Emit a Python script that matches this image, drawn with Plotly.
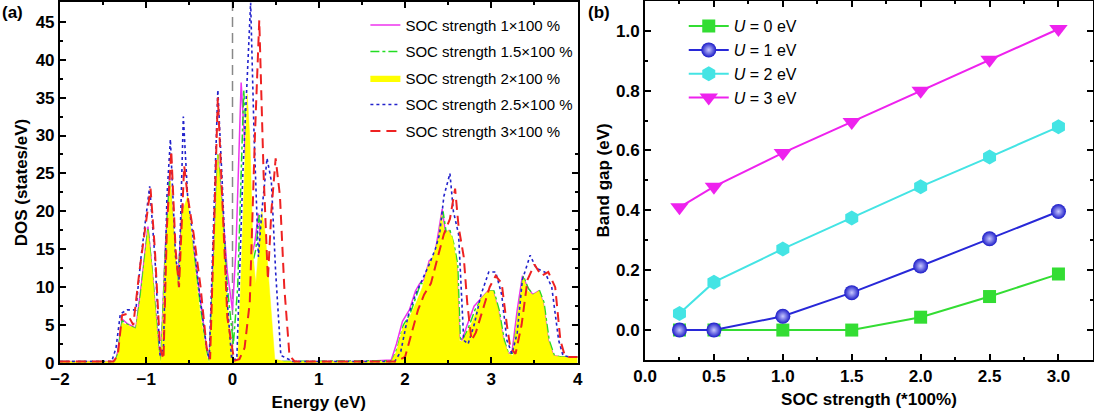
import plotly.graph_objects as go

# ---------------- Panel (a): DOS ----------------
E_soc1 = [-2.0, -1.36, -1.33, -1.28, -1.22, -1.12, -1.06, -0.98, -0.93, -0.86, -0.83, -0.78, -0.73, -0.67,
          -0.64, -0.58, -0.53, -0.45, -0.38, -0.30, -0.27, -0.22, -0.17, -0.12, -0.06, 0.00, 0.04, 0.10,
          0.16, 0.22, 0.26, 0.30, 0.34, 0.40, 0.45, 0.55, 1.0, 1.5, 1.84, 1.90, 1.97, 2.05, 2.12, 2.17,
          2.22, 2.28, 2.34, 2.38, 2.43, 2.47, 2.51, 2.56, 2.60, 2.63, 2.66, 2.72, 2.80, 2.88, 2.96, 3.02,
          3.08, 3.14, 3.19, 3.24, 3.30, 3.36, 3.42, 3.48, 3.55, 3.60, 3.66, 3.72, 3.80, 4.0]
D_soc1 = [0.2, 0.2, 1.5, 5.8, 5.2, 4.6, 10, 18, 12, 2.5, 0.5, 15, 24.5, 15, 9.5, 21, 19, 15, 9, 2, 0.5, 13, 27.5,
          21, 12, 7, 15, 37, 25, 14, 16, 19.7, 14, 6, 0.5, 0.2, 0.2, 0.2, 0.4, 2.5, 5.5, 7, 9.5, 10.5, 11,
          13.5, 14, 17, 20.3, 17, 17.5, 15, 12.5, 3.5, 3, 5, 7.5, 8.5, 9.5, 9.5, 7, 3, 1.2, 1.5, 7, 11.5,
          10, 9, 9.5, 8, 3, 1, 0.8, 0.8]

E_soc15 = [-2.0, -1.36, -1.33, -1.28, -1.22, -1.12, -1.06, -0.98, -0.93, -0.86, -0.83, -0.78, -0.73, -0.67,
           -0.64, -0.58, -0.53, -0.45, -0.38, -0.30, -0.27, -0.22, -0.17, -0.12, -0.06, 0.01, 0.06, 0.13,
           0.18, 0.23, 0.27, 0.31, 0.35, 0.41, 0.47, 0.55, 1.0, 1.5, 1.85, 1.91, 1.98, 2.06, 2.13, 2.18,
           2.23, 2.29, 2.35, 2.39, 2.44, 2.48, 2.52, 2.57, 2.61, 2.64, 2.67, 2.73, 2.81, 2.89, 2.97, 3.03,
           3.09, 3.15, 3.20, 3.25, 3.31, 3.37, 3.43, 3.49, 3.56, 3.61, 3.67, 3.73, 3.81, 4.0]
D_soc15 = [0.2, 0.2, 1.2, 5.6, 5.1, 4.5, 9.5, 17.8, 12, 2.2, 0.3, 14.5, 24, 15, 9.5, 20.5, 20, 14.5, 8, 1.5, 0.3,
           12.5, 27.5, 20.5, 10, 2.5, 10, 36, 26, 13, 15, 19.5, 15, 6.5, 0.5, 0.2, 0.2, 0.2, 0.3, 2, 5, 6.5,
           9, 10.5, 10.5, 13, 14, 16.5, 20, 17, 17.5, 15.5, 13, 3.2, 3, 4.5, 7, 8.5, 9.5, 9.5, 7, 3, 1.2, 1.3,
           6.5, 11.5, 9.8, 9, 9.5, 8, 3, 1, 0.8, 0.8]

E_soc2 = [-2.0, -1.36, -1.33, -1.28, -1.22, -1.12, -1.06, -0.98, -0.93, -0.86, -0.83, -0.78, -0.72, -0.66,
          -0.63, -0.58, -0.52, -0.45, -0.38, -0.30, -0.27, -0.22, -0.17, -0.12, -0.06, 0.00, 0.06, 0.10,
          0.17, 0.20, 0.24, 0.27, 0.30, 0.34, 0.38, 0.44, 0.49, 0.60, 1.0, 1.5, 1.84, 1.90, 1.97, 2.05,
          2.13, 2.20, 2.27, 2.32, 2.38, 2.42, 2.46, 2.50, 2.55, 2.60, 2.63, 2.66, 2.72, 2.80, 2.88, 2.96,
          3.02, 3.08, 3.14, 3.20, 3.25, 3.30, 3.37, 3.42, 3.48, 3.55, 3.60, 3.66, 3.72, 3.80, 4.0]
D_soc2 = [0.2, 0.2, 1.0, 5.3, 5.0, 4.5, 9.0, 17.5, 12, 2.0, 0.0, 14, 24, 15, 9.5, 20, 22, 14, 7, 1, 0.0, 12, 27.5,
          20, 8, 0.0, 0.5, 12, 35.5, 30, 14, 10.5, 15, 20, 17, 8, 0.5, 0.2, 0.2, 0.2, 0.2, 1.5, 4.5, 6, 8, 10,
          13, 14, 16, 19.5, 17, 17.5, 16.5, 13, 3, 2.8, 4, 6, 8.5, 9.5, 9.5, 7, 3, 1.2, 1.0, 6, 11.3, 9.5, 9,
          9.5, 8, 3, 1, 0.8, 0.8]

E_soc25 = [-2.0, -1.40, -1.35, -1.30, -1.22, -1.12, -1.06, -0.96, -0.90, -0.84, -0.80, -0.76, -0.72, -0.66,
           -0.62, -0.57, -0.52, -0.45, -0.38, -0.30, -0.27, -0.22, -0.17, -0.12, -0.06, -0.01, 0.05, 0.12,
           0.21, 0.25, 0.30, 0.34, 0.40, 0.45, 0.50, 0.56, 0.70, 1.0, 1.5, 1.88, 1.95, 2.03, 2.12, 2.20,
           2.28, 2.35, 2.40, 2.45, 2.52, 2.56, 2.62, 2.68, 2.73, 2.80, 2.88, 2.97, 3.05, 3.12, 3.18, 3.24,
           3.30, 3.36, 3.45, 3.52, 3.62, 3.70, 3.78, 3.83, 3.90, 4.0]
D_soc25 = [0.2, 0.2, 2.0, 6.5, 7.0, 7.0, 14, 23.3, 14, 1.0, 2.0, 22, 29.5, 14, 11, 32.5, 22, 16, 9, 2, 0.5, 18,
           36, 24, 8, 0.5, 0.5, 25, 47.5, 30, 14, 20, 27, 24, 12, 1, 0.2, 0.2, 0.2, 0.2, 1.5, 6, 9, 11, 13,
           15, 17, 22, 25, 20, 17, 3, 2.5, 5, 9, 12, 12, 9, 3, 1.2, 4, 11, 14.2, 12.5, 12, 10, 3, 1, 0.8, 0.8]

E_soc3 = [-2.0, -1.38, -1.33, -1.28, -1.22, -1.15, -1.08, -0.95, -0.90, -0.84, -0.80, -0.76, -0.71, -0.66,
          -0.62, -0.56, -0.52, -0.45, -0.37, -0.30, -0.26, -0.22, -0.17, -0.12, -0.06, 0.02, 0.08, 0.14,
          0.20, 0.26, 0.31, 0.36, 0.41, 0.45, 0.50, 0.55, 0.60, 0.66, 0.72, 1.0, 1.5, 1.90, 2.00, 2.08,
          2.15, 2.22, 2.30, 2.38, 2.45, 2.52, 2.58, 2.62, 2.68, 2.72, 2.77, 2.82, 2.90, 2.98, 3.05, 3.12,
          3.18, 3.22, 3.28, 3.35, 3.42, 3.50, 3.58, 3.66, 3.74, 3.80, 3.85, 3.90, 4.0]
D_soc3 = [0.2, 0.2, 1.0, 6.3, 6.5, 5.0, 12, 23, 15, 2, 0.5, 18, 28, 15, 10, 26, 22, 17, 10, 2, 0.5, 15, 35, 22,
          6, 0.3, 0.5, 2, 8, 30, 45.2, 25, 11, 20, 27, 22, 10, 1, 0.2, 0.2, 0.2, 0.2, 0.8, 4, 7, 9, 10.5, 14,
          17, 19, 23, 18, 14, 8, 3, 4, 7, 10, 11.5, 10.5, 5, 2, 1.2, 5, 11, 13, 11.5, 12, 10, 3, 1, 0.8, 0.8]

# ---------------- Panel (b): band gap ----------------
soc = [0.25, 0.5, 1.0, 1.5, 2.0, 2.5, 3.0]
gap_U0 = [0.0, 0.0, 0.0, 0.0, 0.043, 0.112, 0.187]
gap_U1 = [0.0, 0.0, 0.046, 0.125, 0.214, 0.305, 0.396]
gap_U2 = [0.055, 0.160, 0.271, 0.374, 0.479, 0.578, 0.679]
gap_U3 = [0.410, 0.479, 0.592, 0.695, 0.800, 0.903, 1.006]

FONT = "Liberation Sans, Arial, sans-serif"

fig = go.Figure()

dos_legend_font = dict(family=FONT, size=15, color="black")

fig.add_trace(go.Scatter(x=E_soc1, y=D_soc1, mode="lines", name="SOC strength 1×100 %",
                         line=dict(color="#EE33EE", width=1.5), legend="legend", legendgroup="a1",
                         xaxis="x", yaxis="y"))
fig.add_trace(go.Scatter(x=E_soc15, y=D_soc15, mode="lines", name="SOC strength 1.5×100 %",
                         line=dict(color="#22DD22", width=1.5, dash="dashdot"), legend="legend",
                         legendgroup="a2", xaxis="x", yaxis="y"))
fig.add_trace(go.Scatter(x=E_soc2, y=D_soc2, mode="lines", name="SOC strength 2×100 %",
                         line=dict(color="#FFFF00", width=0.5), fill="tozeroy", fillcolor="#FFFF00",
                         legend="legend", legendgroup="a3", xaxis="x", yaxis="y"))
fig.add_trace(go.Scatter(x=E_soc25, y=D_soc25, mode="lines", name="SOC strength 2.5×100 %",
                         line=dict(color="#2222CC", width=1.6, dash="dot"), legend="legend",
                         legendgroup="a4", xaxis="x", yaxis="y"))
fig.add_trace(go.Scatter(x=E_soc3, y=D_soc3, mode="lines", name="SOC strength 3×100 %",
                         line=dict(color="#EE2222", width=2, dash="10px,6px"), legend="legend",
                         legendgroup="a5", xaxis="x", yaxis="y"))

fig.add_trace(go.Scatter(x=soc, y=gap_U0, mode="lines+markers", name="<i>U</i> = 0 eV",
                         line=dict(color="#33DD33", width=2),
                         marker=dict(symbol="square", size=13, color="#33DD33"),
                         legend="legend2", xaxis="x2", yaxis="y2"))
fig.add_trace(go.Scatter(x=soc, y=gap_U1, mode="lines+markers", name="<i>U</i> = 1 eV",
                         line=dict(color="#2828D8", width=2),
                         marker=dict(symbol="circle", size=15, color="#1A1AC8",
                                     gradient=dict(type="radial", color="#C8C8FF")),
                         legend="legend2", xaxis="x2", yaxis="y2"))
fig.add_trace(go.Scatter(x=soc, y=gap_U2, mode="lines+markers", name="<i>U</i> = 2 eV",
                         line=dict(color="#44E4E4", width=2),
                         marker=dict(symbol="hexagon", size=15, color="#44E4E4"),
                         legend="legend2", xaxis="x2", yaxis="y2"))
fig.add_trace(go.Scatter(x=soc, y=gap_U3, mode="lines+markers", name="<i>U</i> = 3 eV",
                         line=dict(color="#EE22EE", width=2),
                         marker=dict(symbol="triangle-down", size=16, color="#EE22EE"),
                         legend="legend2", xaxis="x2", yaxis="y2"))

axis_common = dict(showline=True, linecolor="black", linewidth=2, mirror="allticks",
                   ticks="inside", ticklen=6, tickwidth=2, tickcolor="black",
                   showgrid=False, zeroline=False, automargin=False,
                   tickfont=dict(family=FONT, size=17, color="black", weight="bold"))
title_font = dict(family=FONT, size=17, color="black", weight="bold")

fig.update_layout(
    width=1094, height=418,
    margin=dict(l=0, r=0, t=0, b=0),
    paper_bgcolor="white", plot_bgcolor="white",
    font=dict(family=FONT, color="black"),
    xaxis=dict(domain=[0.0548, 0.528], range=[-2, 4], dtick=1, tick0=0,
               minor=dict(ticks="inside", ticklen=3, tickwidth=1.5, dtick=0.5, tickcolor="black"),
               title=dict(text="Energy (eV)", font=title_font, standoff=8), anchor="y", **axis_common),
    yaxis=dict(domain=[0.1316, 0.995], range=[0, 47.6], dtick=5, tick0=0,
               minor=dict(ticks="inside", ticklen=3, tickwidth=1.5, dtick=2.5, tickcolor="black"),
               title=dict(text="DOS (states/eV)", font=title_font, standoff=4), anchor="x", **axis_common),
    xaxis2=dict(domain=[0.5896, 0.999], range=[0, 3.25], dtick=0.5, tick0=0, tickformat=".1f",
                minor=dict(ticks="inside", ticklen=3, tickwidth=1.5, dtick=0.25, tickcolor="black"),
                title=dict(text="SOC strength (*100%)", font=title_font, standoff=8), anchor="y2",
                **axis_common),
    yaxis2=dict(domain=[0.1388, 0.998], range=[-0.1, 1.1], dtick=0.2, tick0=0, tickformat=".1f",
                minor=dict(ticks="inside", ticklen=3, tickwidth=1.5, dtick=0.1, tickcolor="black"),
                title=dict(text="Band gap (eV)", font=title_font, standoff=2), anchor="x2",
                **axis_common),
    legend=dict(x=0.334, y=0.979, xanchor="left", yanchor="top", bgcolor="white",
                font=dos_legend_font, tracegroupgap=4, itemwidth=30),
    legend2=dict(x=0.625, y=0.978, xanchor="left", yanchor="top", bgcolor="rgba(0,0,0,0)",
                 font=dict(family=FONT, size=16, color="black"), itemwidth=40),
    showlegend=True,
)

# Fermi level marker
fig.add_shape(type="line", xref="x", yref="y domain", x0=0, x1=0, y0=0, y1=1,
              line=dict(color="#888888", width=1.5, dash="10px,6px"), layer="below")

fig.add_annotation(text="(a)", xref="paper", yref="paper", x=0.0, y=0.998, xanchor="left", yanchor="top",
                   showarrow=False, font=dict(family=FONT, size=17, color="black", weight="bold"))
fig.add_annotation(text="(b)", xref="paper", yref="paper", x=0.536, y=0.998, xanchor="left", yanchor="top",
                   showarrow=False, font=dict(family=FONT, size=17, color="black", weight="bold"))

fig.write_html("out.html")
